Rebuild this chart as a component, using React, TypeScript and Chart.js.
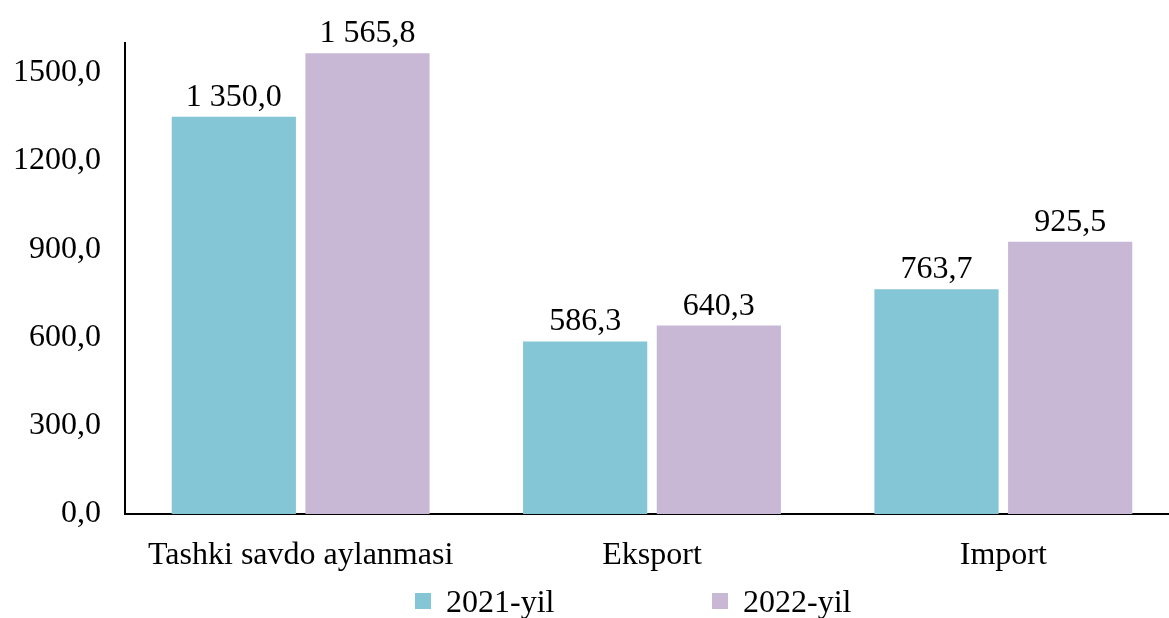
import React, { useEffect, useRef } from "react";
import { Chart, registerables } from "chart.js";

Chart.register(...registerables);

const categories = ["Tashki savdo aylanmasi", "Eksport", "Import"];
const seriesNames = ["2021-yil", "2022-yil"];
const values2021 = [1350.0, 586.3, 763.7];
const values2022 = [1565.8, 640.3, 925.5];
const yTicks = [0, 300, 600, 900, 1200, 1500];
const colors = ["#84C5D6", "#C8B8D6"];
const FONT = "'Liberation Serif', 'Times New Roman', serif";
const FS = 32;

function fmt(v: number): string {
  const s = v.toFixed(1);
  const [i, d] = s.split(".");
  const withSp = i.replace(/\B(?=(\d{3})+(?!\d))/g, " ");
  return withSp + "," + d;
}

const labelPlugin = {
  id: "valueLabels",
  afterDatasetsDraw(chart: any) {
    const ctx = chart.ctx;
    ctx.save();
    ctx.font = `${FS}px ${FONT}`;
    ctx.fillStyle = "#000";
    ctx.textAlign = "center";
    ctx.textBaseline = "alphabetic";
    chart.data.datasets.forEach((ds: any, di: number) => {
      const meta = chart.getDatasetMeta(di);
      meta.data.forEach((bar: any, i: number) => {
        ctx.fillText(fmt(ds.data[i]), bar.x, bar.y - 11);
      });
    });
    ctx.restore();
  },
};

export default function App() {
  const ref = useRef<HTMLCanvasElement | null>(null);
  useEffect(() => {
    document.body.style.margin = "0";
    const chart = new Chart(ref.current as HTMLCanvasElement, {
      type: "bar",
      data: {
        labels: categories,
        datasets: [
          { label: seriesNames[0], data: values2021, backgroundColor: colors[0] },
          { label: seriesNames[1], data: values2022, backgroundColor: colors[1] },
        ],
      },
      options: {
        animation: false,
        responsive: false,
        maintainAspectRatio: false,
        layout: { padding: { top: 42, left: 0, right: 0, bottom: 44 } },
        datasets: {
          bar: { categoryPercentage: 0.761, barPercentage: 0.929 },
        } as any,
        plugins: { legend: { display: false }, tooltip: { enabled: false } },
        scales: {
          x: {
            grid: { display: false, drawTicks: false },
            border: { display: true, color: "#000", width: 2 },
            ticks: { color: "#000", font: { family: FONT, size: FS }, padding: 22, maxRotation: 0, autoSkip: false },
            afterFit: (s: any) => { s.height = 60; },
          },
          y: {
            min: 0,
            max: 1600,
            grid: { display: false, drawTicks: false },
            border: { display: true, color: "#000", width: 2 },
            afterBuildTicks: (s: any) => { s.ticks = yTicks.map((v) => ({ value: v })); },
            ticks: {
              autoSkip: false,
              color: "#000",
              padding: 24,
              font: { family: FONT, size: FS },
              callback: (v: any) => Number(v).toFixed(1).replace(".", ","),
            },
            afterFit: (s: any) => { s.width = 125; },
          },
        },
      },
      plugins: [labelPlugin],
    });
    return () => chart.destroy();
  }, []);

  const legendItem = (i: number, left: number) => (
    <div style={{ position: "absolute", left, top: 584, display: "flex", alignItems: "center" }}>
      <div style={{ width: 16, height: 16, background: colors[i], marginRight: 15 }} />
      <span style={{ fontFamily: FONT, fontSize: FS, color: "#000", lineHeight: "34px" }}>{seriesNames[i]}</span>
    </div>
  );

  return (
    <div style={{ position: "relative", width: 1169, height: 618, overflow: "hidden" }}>
      <canvas ref={ref} width={1179} height={618} style={{ display: "block" }} />
      {legendItem(0, 415)}
      {legendItem(1, 712)}
    </div>
  );
}
